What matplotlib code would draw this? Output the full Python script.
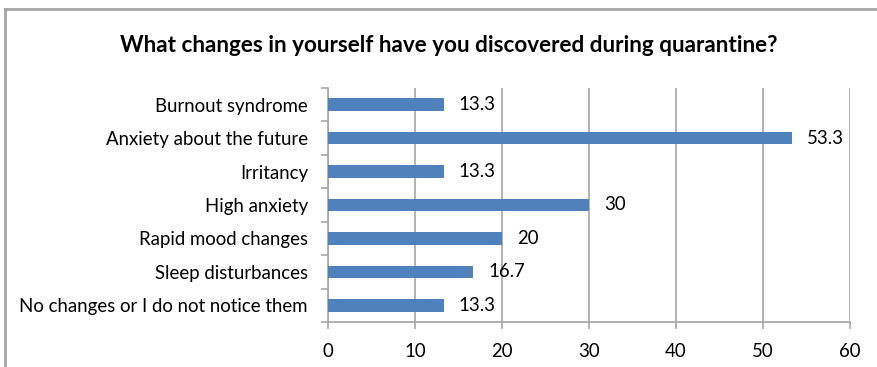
import matplotlib
matplotlib.use("Agg")
import matplotlib.pyplot as plt
from matplotlib.lines import Line2D

categories = [
    "Burnout syndrome",
    "Anxiety about the future",
    "Irritancy",
    "High anxiety",
    "Rapid mood changes",
    "Sleep disturbances",
    "No changes or I do not notice them",
]
values = [13.3, 53.3, 13.3, 30, 20, 16.7, 13.3]
value_labels = ["13.3", "53.3", "13.3", "30", "20", "16.7", "13.3"]
x_ticks = [0, 10, 20, 30, 40, 50, 60]
title = "What changes in yourself have you discovered during quarantine?"

plt.rcParams["font.family"] = ["Lato", "DejaVu Sans"]

W, H = 878, 367
FS = 13.4
fig = plt.figure(figsize=(W / 100, H / 100), dpi=100)

# outer chart frame (left and top edges visible)
fig.add_artist(Line2D([5.5 / W, 5.5 / W], [0, 1 - 8.5 / H], color="#A6A6A6",
                      lw=2.0, transform=fig.transFigure))
fig.add_artist(Line2D([5.5 / W, 1], [1 - 8.5 / H, 1 - 8.5 / H], color="#A6A6A6",
                      lw=2.0, transform=fig.transFigure))

ax = fig.add_axes([328 / W, 1 - 322 / H, (850 - 328) / W, (322 - 88) / H])

n = len(categories)
ypos = list(range(n))[::-1]
ax.barh(ypos, values, height=0.38, color="#4F81BD", zorder=3)
for y, v, lab in zip(ypos, values, value_labels):
    ax.annotate(lab, (v, y), xytext=(15, 0), textcoords="offset pixels",
                va="center", ha="left", fontsize=FS, color="#000000")

ax.set_xlim(0, 60)
ax.set_ylim(-0.5, n - 0.5)
ax.set_xticks(x_ticks)
ax.set_xticklabels([str(t) for t in x_ticks], fontsize=FS)
ax.set_yticks(ypos)
ax.set_yticklabels(categories, fontsize=FS)
ax.set_yticks([i - 0.5 for i in range(n + 1)], minor=True)

ax.grid(axis="x", color="#A6A6A6", lw=1.2, zorder=0)
ax.tick_params(axis="y", which="major", length=0, pad=14.4)
ax.tick_params(axis="y", which="minor", length=5, color="#A6A6A6", width=1.2)
ax.tick_params(axis="x", which="major", length=5, color="#A6A6A6", width=1.2, pad=10)

for s in ["top", "right"]:
    ax.spines[s].set_visible(False)
for s in ["left", "bottom"]:
    ax.spines[s].set_color("#A6A6A6")
    ax.spines[s].set_linewidth(1.2)

fig.text(449 / W, 1 - 45 / H, title, ha="center", va="center",
         fontsize=16.2, fontweight="bold")

fig.savefig("out.png", dpi=100)
